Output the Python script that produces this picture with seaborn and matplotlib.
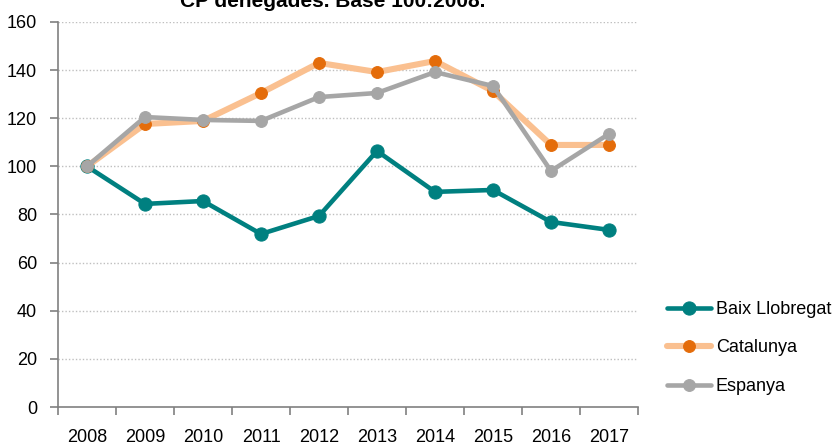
import matplotlib
matplotlib.use("Agg")
import matplotlib.pyplot as plt
import seaborn as sns
import pandas as pd

years = ["2008", "2009", "2010", "2011", "2012", "2013", "2014", "2015", "2016", "2017"]
baix = [100, 84.4, 85.6, 71.9, 79.4, 106.4, 89.4, 90.2, 76.9, 73.6]
catalunya = [100, 117.6, 118.9, 130.5, 143.0, 139.2, 143.8, 131.3, 108.9, 108.9]
espanya = [100, 120.5, 119.3, 118.9, 128.8, 130.5, 139.2, 133.4, 98.1, 113.5]
yticks = [0, 20, 40, 60, 80, 100, 120, 140, 160]
title = "CP denegades. Base 100:2008."

sns.set_style("white")
plt.rcParams['font.family'] = ['Liberation Sans', 'DejaVu Sans']
plt.rcParams['text.color'] = 'black'
plt.rcParams['xtick.labelcolor'] = 'black'
plt.rcParams['ytick.labelcolor'] = 'black'

fig = plt.figure(figsize=(8.33, 4.46), dpi=100)
ax = fig.add_axes([58/833, 1 - 407/446, 580/833, 385/446])

df = pd.DataFrame({"year": years, "Baix Llobregat": baix, "Catalunya": catalunya, "Espanya": espanya})

styles = {
    "Baix Llobregat": dict(color="#008080", lw=3.3, ms=9.5, mfc="#008080"),
    "Catalunya": dict(color="#FAC090", lw=4.4, ms=8.5, mfc="#E46C0A"),
    "Espanya": dict(color="#A6A6A6", lw=3.3, ms=8.5, mfc="#A6A6A6"),
}
for name in ["Baix Llobregat", "Catalunya", "Espanya"]:
    s = styles[name]
    sns.lineplot(data=df, x="year", y=name, ax=ax, label=name, color=s["color"],
                 linewidth=s["lw"], marker="o", markersize=s["ms"],
                 markerfacecolor=s["mfc"], markeredgecolor=s["mfc"], sort=False)

ax.set_xlim(-0.5, len(years) - 0.5)
ax.set_ylim(0, 160)
ax.set_yticks(yticks)
ax.set_yticklabels([str(t) for t in yticks], fontsize=13, color="black")
ax.set_xlabel("")
ax.set_ylabel("")

# x ticks: marks at boundaries, labels at centres
ax.set_xticks([i - 0.5 for i in range(len(years) + 1)])
ax.set_xticklabels([])
ax.set_xticks(range(len(years)), minor=True)
ax.set_xticklabels(years, minor=True, fontsize=13, color="black")
ax.tick_params(axis="x", which="major", length=6, width=1.2, color="#808080", direction="out", bottom=True)
ax.tick_params(axis="x", which="minor", length=0, pad=16, bottom=True)
ax.tick_params(axis="y", length=6, width=1.2, color="#808080", direction="out", left=True, pad=9)

for y in yticks[1:]:
    ax.axhline(y, color="#BFBFBF", lw=1, ls=(0, (1, 1.5)), zorder=0)

for sp in ["top", "right"]:
    ax.spines[sp].set_visible(False)
for sp in ["left", "bottom"]:
    ax.spines[sp].set_color("#808080")
    ax.spines[sp].set_linewidth(1.2)

leg = ax.legend(loc="center left", bbox_to_anchor=(667/833, 1 - 348/446),
                bbox_transform=fig.transFigure, frameon=False,
                fontsize=13, handlelength=2.45, handletextpad=0.25, labelspacing=1.2,
                borderaxespad=0, borderpad=0)
for t in leg.get_texts():
    t.set_color("black")

fig.text(333/833, 1 - 7/446, title, ha="center", va="baseline", fontsize=15,
         fontweight="bold", color="black")

fig.savefig("out.png", dpi=100)
